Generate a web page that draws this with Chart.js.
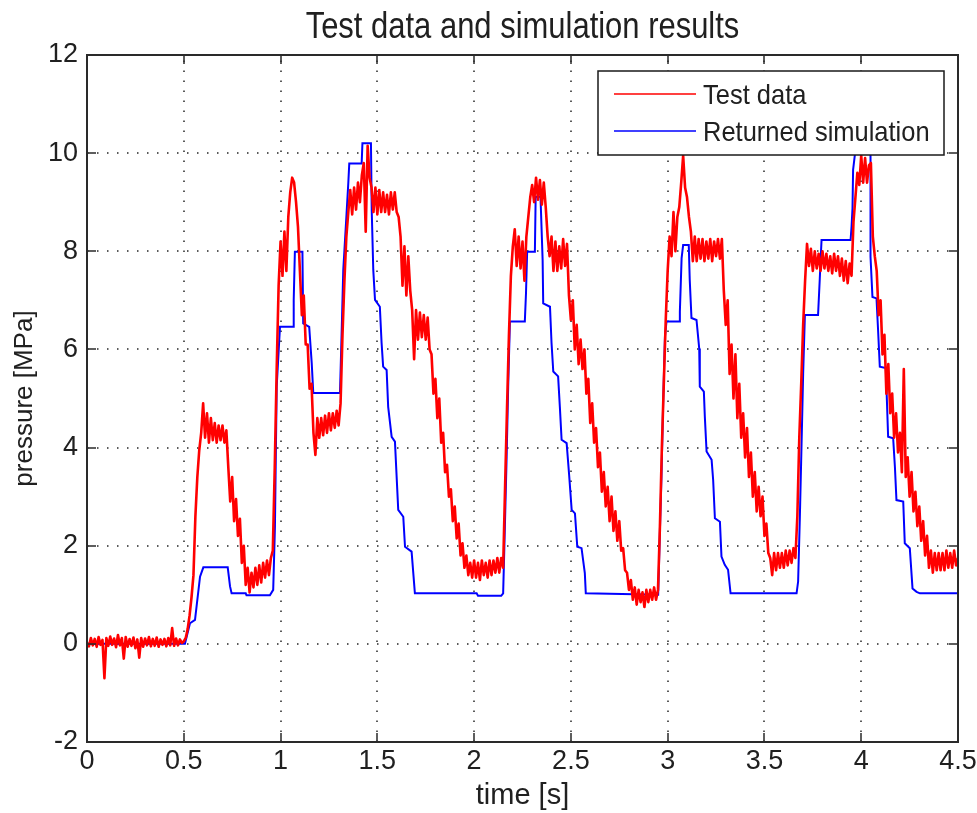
<!DOCTYPE html>
<html>
<head>
<meta charset="utf-8">
<title>Test data and simulation results</title>
<script src="https://cdn.jsdelivr.net/npm/chart.js@4.4.1/dist/chart.umd.min.js"></script>
<style>
  html, body { margin: 0; padding: 0; background: #ffffff; }
  #wrap { width: 977px; height: 813px; }
</style>
</head>
<body>
<div id="wrap"><canvas id="chart" width="977" height="813"></canvas></div>
<script>
// Measured pressure, sampled every 0.01 s from t = 0 to t = 4.5 s [MPa]
const testStep = 0.01;
const testPressure = [
  0.02, -0.05, 0.12, -0.03, 0.10, -0.06, 0.14, -0.02, 0.08, -0.70,
  0.12, -0.04, 0.15, -0.02, 0.11, -0.07, 0.18, -0.03, 0.12, -0.30,
  0.14, -0.06, 0.10, -0.04, 0.13, -0.09, 0.09, -0.28, 0.12, -0.06,
  0.11, -0.03, 0.14, -0.05, 0.10, -0.04, 0.13, -0.06, 0.09, -0.02,
  0.10, -0.05, 0.12, -0.03, 0.32, -0.04, 0.11, -0.03, 0.09, 0.02,
  0.05, 0.12, 0.30, 0.58, 0.95, 1.40, 2.60, 3.40, 3.95, 4.30,
  4.90, 4.20, 4.70, 4.10, 4.60, 4.15, 4.50, 4.10, 4.45, 4.15,
  4.45, 4.10, 4.35, 3.60, 2.90, 3.40, 2.50, 2.95, 2.20, 2.55,
  1.65, 2.00, 1.20, 1.55, 1.05, 1.45, 1.15, 1.55, 1.20, 1.60,
  1.25, 1.65, 1.35, 1.70, 1.40, 1.75, 1.90, 3.60, 5.60, 7.30,
  8.20, 7.50, 8.40, 7.60, 8.70, 9.20, 9.50, 9.40, 9.00, 8.50,
  7.60, 6.70, 7.10, 6.10, 6.10, 5.20, 5.30, 4.30, 3.85, 4.60,
  4.20, 4.60, 4.25, 4.65, 4.30, 4.70, 4.35, 4.70, 4.40, 4.75,
  4.45, 4.90, 6.30, 7.40, 8.30, 8.80, 9.25, 8.75, 9.30, 8.85,
  9.40, 9.00, 9.55, 9.80, 8.40, 10.15, 9.50, 9.30, 8.80, 9.30,
  8.75, 9.25, 8.80, 9.20, 8.80, 9.15, 8.75, 9.20, 8.85, 9.20,
  8.80, 8.70, 8.30, 7.30, 8.10, 7.10, 7.90, 7.20, 6.80, 5.80,
  6.80, 6.20, 6.75, 6.25, 6.70, 6.20, 6.65, 6.00, 5.90, 5.10,
  5.40, 4.60, 5.00, 4.10, 4.30, 3.50, 3.65, 3.00, 3.15, 2.50,
  2.80, 2.15, 2.45, 1.80, 2.05, 1.55, 1.80, 1.40, 1.65, 1.35,
  1.70, 1.35, 1.65, 1.30, 1.70, 1.40, 1.65, 1.35, 1.70, 1.40,
  1.70, 1.45, 1.75, 1.45, 1.75, 1.55, 3.20, 4.80, 6.30, 7.50,
  8.10, 8.45, 7.70, 8.30, 7.65, 8.20, 7.40, 8.30, 8.70, 9.10,
  9.35, 9.00, 9.50, 9.05, 9.45, 8.95, 9.40, 8.90, 8.30, 7.90,
  8.30, 7.60, 8.20, 7.60, 8.10, 7.65, 8.25, 7.70, 8.15, 7.10,
  6.60, 7.00, 6.00, 6.50, 5.70, 6.20, 5.60, 6.00, 5.10, 5.40,
  4.50, 4.90, 4.10, 4.40, 3.60, 3.90, 3.10, 3.50, 2.80, 3.20,
  2.50, 3.00, 2.30, 2.70, 2.10, 2.50, 1.90, 1.95, 1.50, 1.45,
  1.10, 1.30, 0.90, 1.15, 0.80, 1.10, 0.85, 1.05, 0.75, 1.10,
  0.85, 1.10, 0.90, 1.15, 0.90, 1.10, 2.40, 4.00, 5.30, 6.60,
  7.60, 8.30, 7.90, 8.80, 8.00, 8.70, 8.90, 9.40, 9.95, 9.30,
  9.10, 8.70, 8.40, 7.80, 8.30, 7.80, 8.25, 7.85, 8.25, 7.80,
  8.20, 7.85, 8.25, 7.80, 8.20, 7.90, 8.25, 7.85, 8.25, 7.20,
  6.50, 7.00, 5.50, 6.10, 5.00, 5.90, 4.60, 5.30, 4.20, 4.70,
  3.80, 4.40, 3.40, 3.90, 3.00, 3.50, 2.70, 3.20, 2.60, 3.00,
  2.20, 2.45, 1.85, 1.75, 1.40, 1.85, 1.50, 1.85, 1.55, 1.85,
  1.55, 1.90, 1.60, 1.90, 1.65, 1.95, 1.75, 2.60, 4.20, 5.30,
  6.50, 7.40, 8.15, 7.70, 8.05, 7.60, 8.00, 7.65, 7.95, 7.60,
  8.00, 7.65, 7.95, 7.60, 7.90, 7.55, 7.95, 7.60, 7.90, 7.50,
  7.85, 7.40, 7.80, 7.35, 7.75, 7.50, 8.60, 9.10, 9.60, 9.35,
  9.95, 9.40, 9.90, 9.40, 9.75, 9.80, 8.30, 7.90, 7.60, 6.70,
  7.00, 5.90, 6.30, 5.10, 5.70, 4.70, 5.10, 4.20, 4.70, 3.90,
  4.30, 3.50, 5.60, 3.40, 3.80, 3.00, 3.50, 2.70, 3.10, 2.40,
  2.80, 2.10, 2.50, 1.80, 2.20, 1.55, 1.90, 1.45, 1.85, 1.50,
  1.85, 1.50, 1.85, 1.50, 1.90, 1.55, 1.85, 1.55, 1.90, 1.60,
  1.75
];

// Simulated pressure: corner points of the stepped response
const simTime = [
  0, 0.506, 0.532, 0.558, 0.584, 0.601, 0.727, 0.739, 0.747, 0.820,
  0.824, 0.945, 0.962, 0.971, 0.980, 0.997, 1.066, 1.068, 1.074, 1.113,
  1.117, 1.148, 1.161, 1.169, 1.307, 1.316, 1.324, 1.341, 1.350, 1.355,
  1.419, 1.423, 1.467, 1.471, 1.479, 1.488, 1.513, 1.522, 1.530, 1.548,
  1.556, 1.574, 1.591, 1.608, 1.634, 1.643, 1.677, 1.694, 2.013, 2.020,
  2.140, 2.150, 2.159, 2.168, 2.176, 2.185, 2.262, 2.268, 2.274, 2.314,
  2.318, 2.343, 2.354, 2.357, 2.392, 2.400, 2.409, 2.434, 2.443, 2.452,
  2.478, 2.491, 2.504, 2.521, 2.533, 2.555, 2.572, 2.577, 2.951, 2.960,
  2.968, 2.977, 2.986, 2.994, 3.059, 3.063, 3.072, 3.080, 3.109, 3.114,
  3.123, 3.149, 3.163, 3.166, 3.187, 3.192, 3.201, 3.227, 3.235, 3.244,
  3.270, 3.278, 3.295, 3.312, 3.325, 3.666, 3.674, 3.683, 3.692, 3.700,
  3.709, 3.777, 3.786, 3.795, 3.945, 3.950, 3.955, 3.958, 3.967, 3.977,
  4.039, 4.048, 4.048, 4.058, 4.079, 4.087, 4.096, 4.127, 4.139, 4.165,
  4.174, 4.182, 4.217, 4.225, 4.251, 4.265, 4.286, 4.303, 4.5
];
const simPressure = [
  0, 0, 0.42, 0.49, 1.37, 1.56, 1.56, 1.17, 1.03, 1.03,
  0.99, 0.99, 1.10, 2.39, 5.24, 6.46, 6.46, 7.01, 7.99, 7.99,
  6.53, 6.46, 5.72, 5.11, 5.11, 6.40, 7.62, 8.77, 9.39, 9.79,
  9.79, 10.2, 10.2, 8.84, 7.62, 7.01, 6.87, 6.13, 5.65, 5.58,
  4.83, 4.22, 4.12, 2.73, 2.59, 1.98, 1.88, 1.03, 1.03, 0.98,
  0.98, 1.03, 2.39, 3.81, 5.24, 6.57, 6.57, 7.14, 7.99, 7.99,
  9.11, 9.11, 7.82, 6.94, 6.87, 6.13, 5.55, 5.45, 4.83, 4.16,
  4.09, 3.44, 2.73, 2.66, 1.98, 1.95, 1.44, 1.03, 1.00, 2.32,
  3.41, 4.97, 6.26, 6.57, 6.57, 6.77, 7.86, 8.13, 8.13, 7.42,
  6.64, 6.60, 6.02, 5.24, 5.14, 4.63, 3.92, 3.75, 3.34, 2.56,
  2.49, 1.78, 1.61, 1.51, 1.03, 1.03, 1.27, 2.59, 4.12, 5.51,
  6.70, 6.70, 7.45, 8.23, 8.23, 8.50, 8.88, 9.66, 9.96, 10.2,
  10.2, 9.96, 7.89, 7.07, 7.04, 6.40, 5.65, 5.62, 4.22, 4.19,
  3.61, 2.93, 2.90, 2.05, 1.95, 1.13, 1.06, 1.03, 1.03
];

// Axis limits and tick steps
const timeRange = [0, 4.5];
const timeTickStep = 0.5;
const pressureRange = [-2, 12];
const pressureTickStep = 2;

const chartTitle = 'Test data and simulation results';
const seriesLabels = ['Test data', 'Returned simulation'];
const seriesColors = ['#ff0000', '#0000ff'];

const FONT = '"Liberation Sans", Arial, Helvetica, sans-serif';
const INK = '#202020';

const testPoints = testPressure.map((v, i) => ({ x: +(i * testStep).toFixed(2), y: v }));
const simPoints = simTime.map((t, i) => ({ x: t, y: simPressure[i] }));

// Text squeezed horizontally to get the tall, narrow lettering of the figure
function narrowText(ctx, text, x, y, size, squeeze, align) {
  ctx.save();
  ctx.font = size + 'px ' + FONT;
  ctx.textAlign = align;
  ctx.translate(x, y);
  ctx.scale(squeeze, 1);
  ctx.fillText(text, 0, 0);
  ctx.restore();
}

// Box, dotted grid, inward tick marks, framed legend and title
const boxedAxes = {
  id: 'boxedAxes',
  beforeDatasetsDraw(chart) {
    const { ctx, chartArea: a, scales: { x, y } } = chart;
    ctx.save();
    ctx.strokeStyle = '#262626';
    ctx.lineWidth = 1.5;
    ctx.setLineDash([1.5, 8.5]);
    ctx.beginPath();
    x.ticks.forEach(t => {
      if (t.value <= x.min || t.value >= x.max) return;
      const px = Math.round(x.getPixelForValue(t.value));
      ctx.moveTo(px, a.bottom);
      ctx.lineTo(px, a.top);
    });
    y.ticks.forEach(t => {
      if (t.value <= y.min || t.value >= y.max) return;
      const py = Math.round(y.getPixelForValue(t.value));
      ctx.moveTo(a.left, py);
      ctx.lineTo(a.right, py);
    });
    ctx.stroke();
    ctx.restore();
  },
  afterDatasetsDraw(chart) {
    const { ctx, chartArea: a, scales: { x, y } } = chart;
    const tick = 9;
    ctx.save();
    ctx.strokeStyle = '#2a2a2a';
    ctx.lineWidth = 1.5;
    ctx.beginPath();
    x.ticks.forEach(t => {
      const px = Math.round(x.getPixelForValue(t.value));
      ctx.moveTo(px, a.bottom); ctx.lineTo(px, a.bottom - tick);
      ctx.moveTo(px, a.top); ctx.lineTo(px, a.top + tick);
    });
    y.ticks.forEach(t => {
      const py = Math.round(y.getPixelForValue(t.value));
      ctx.moveTo(a.left, py); ctx.lineTo(a.left + tick, py);
      ctx.moveTo(a.right, py); ctx.lineTo(a.right - tick, py);
    });
    ctx.stroke();
    ctx.lineWidth = 2;
    ctx.strokeRect(a.left, a.top, a.right - a.left, a.bottom - a.top);

    // legend
    const legendSize = 28, legendSqueeze = 0.91;
    ctx.font = legendSize + 'px ' + FONT;
    const labels = chart.data.datasets.map(d => d.label);
    const textW = Math.max(...labels.map(l => ctx.measureText(l).width)) * legendSqueeze;
    const lineStart = 16, lineLen = 82, textGap = 7;
    const boxW = Math.round(lineStart + lineLen + textGap + textW + 14);
    const boxH = 84;
    const bx = Math.round(a.right - 14 - boxW);
    const by = Math.round(a.top + 16);
    ctx.fillStyle = '#ffffff';
    ctx.fillRect(bx, by, boxW, boxH);
    ctx.strokeStyle = '#1a1a1a';
    ctx.lineWidth = 1.5;
    ctx.strokeRect(bx, by, boxW, boxH);
    const rows = [by + 23, by + 60];
    chart.data.datasets.forEach((d, i) => {
      ctx.strokeStyle = d.borderColor;
      ctx.lineWidth = 1.5;
      ctx.beginPath();
      ctx.moveTo(bx + lineStart, rows[i]);
      ctx.lineTo(bx + lineStart + lineLen, rows[i]);
      ctx.stroke();
      ctx.fillStyle = INK;
      ctx.textBaseline = 'middle';
      narrowText(ctx, d.label, bx + lineStart + lineLen + textGap, rows[i] + 2,
                 legendSize, legendSqueeze, 'left');
    });
    ctx.restore();
  },
  afterDraw(chart) {
    const { ctx, chartArea: a } = chart;
    ctx.save();
    ctx.fillStyle = INK;
    ctx.textBaseline = 'alphabetic';
    narrowText(ctx, chartTitle, (a.left + a.right) / 2, 38, 36, 0.86, 'center');
    ctx.restore();
  }
};

new Chart(document.getElementById('chart'), {
  type: 'line',
  data: {
    datasets: [
      { label: seriesLabels[0], data: testPoints, borderColor: seriesColors[0], borderWidth: 2.6,
        borderJoinStyle: 'round', pointRadius: 0, tension: 0, fill: false },
      { label: seriesLabels[1], data: simPoints, borderColor: seriesColors[1], borderWidth: 2,
        pointRadius: 0, tension: 0, fill: false }
    ]
  },
  options: {
    responsive: false,
    animation: false,
    events: [],
    layout: { padding: { left: 0, right: 0, top: 55, bottom: 0 } },
    plugins: {
      legend: { display: false },
      tooltip: { enabled: false },
      title: { display: false }
    },
    scales: {
      x: {
        type: 'linear',
        min: timeRange[0], max: timeRange[1],
        ticks: { stepSize: timeTickStep, autoSkip: false, maxRotation: 0, color: INK,
                 font: { family: FONT, size: 27 }, padding: 3,
                 callback: v => String(v) },
        grid: { display: false, drawTicks: false },
        border: { display: false },
        title: { display: true, text: 'time [s]', color: INK,
                 font: { family: FONT, size: 29 }, padding: { top: 0, bottom: 0 } },
        afterFit(s) { s.height = 71; s.paddingLeft = 0; s.paddingRight = 19; }
      },
      y: {
        type: 'linear',
        min: pressureRange[0], max: pressureRange[1],
        ticks: { stepSize: pressureTickStep, color: INK,
                 font: { family: FONT, size: 27 }, padding: 9 },
        grid: { display: false, drawTicks: false },
        border: { display: false },
        title: { display: true, text: 'pressure [MPa]', color: INK,
                 font: { family: FONT, size: 26 }, padding: { top: 9, bottom: 0 } },
        afterFit(s) { s.width = 87; }
      }
    }
  },
  plugins: [boxedAxes]
});
</script>
</body>
</html>
